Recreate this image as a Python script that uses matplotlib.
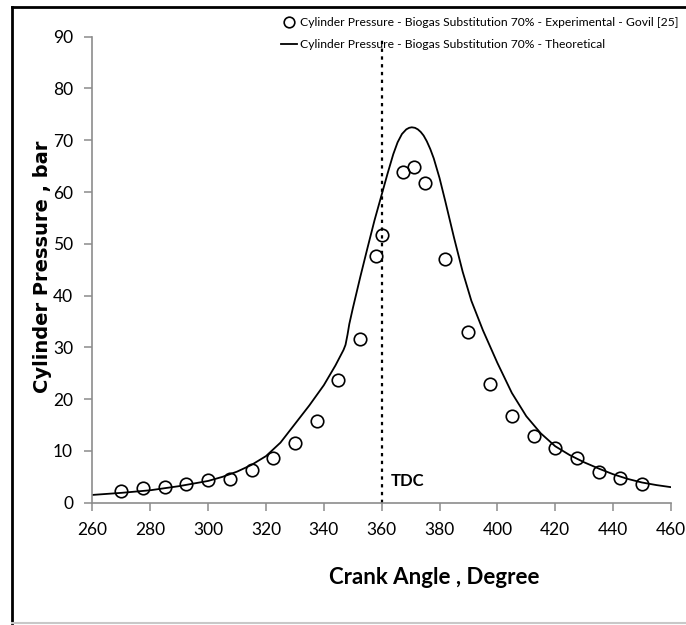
import matplotlib
matplotlib.use("Agg")
import matplotlib.pyplot as plt
from matplotlib.lines import Line2D

# Experimental cylinder pressure (Govil [25])
exp_angle = [270, 277.5, 285, 292.5, 300, 307.5, 315, 322.5, 330, 337.5, 345, 352.5,
             358, 360, 367.3, 371, 375, 382, 390, 397.5, 405, 412.5, 420, 427.5,
             435, 442.5, 450]
exp_pressure = [2.3, 2.9, 3.1, 3.7, 4.3, 4.6, 6.4, 8.7, 11.6, 15.7, 23.6, 31.7,
                47.6, 51.7, 63.8, 64.8, 61.8, 47.0, 32.9, 22.9, 16.8, 12.8, 10.6, 8.7,
                6.0, 4.8, 3.7]

# Theoretical curve
th_angle = [260, 270, 280, 290, 300, 305, 310, 315, 320, 325, 330, 335, 340, 344,
            346.8, 347.5, 348.2, 348.8, 350, 352.6, 355, 357.5, 360, 362, 364,
            365.5, 367, 368.5, 369.5, 370.4, 371.5, 372.5, 373.5, 374.5, 375.6,
            376.8, 378, 380, 382, 385, 388, 391, 395, 400, 405, 410, 415, 420, 425,
            430, 435, 440, 445, 450, 455, 460]
th_pressure = [1.5, 1.9, 2.4, 3.2, 4.2, 5.0, 6.0, 7.3, 9.0, 11.6, 15.2, 18.8, 22.7,
               26.5, 29.5, 30.5, 32.5, 34.5, 37.5, 43.6, 49.0, 54.5, 59.5, 63.5,
               67.3, 69.6, 71.2, 72.1, 72.4, 72.5, 72.4, 72.1, 71.6, 70.9, 69.8,
               68.3, 66.5, 62.7, 58.2, 51.2, 44.6, 39.0, 33.3, 27.0, 21.2, 16.7,
               13.4, 10.9, 9.2, 7.8, 6.6, 5.5, 4.6, 3.9, 3.4, 3.0]

x_ticks = list(range(260, 461, 20))
y_ticks = list(range(0, 91, 10))

narrow = "Lato"

fig = plt.figure(figsize=(6.86, 6.25), dpi=100)
ax = fig.add_axes([0.1348, 0.1957, 0.978 - 0.1348, 0.9413 - 0.1957])

ax.plot(th_angle, th_pressure, color="black", lw=1.3,
        label="Cylinder Pressure - Biogas Substitution 70% - Theoretical")
ax.plot(exp_angle, exp_pressure, linestyle="none", marker="o", markersize=9,
        mfc="none", mec="black", mew=1.2,
        label="Cylinder Pressure - Biogas Substitution 70% - Experimental - Govil [25]")

# TDC marker
ax.axvline(360, color="black", linestyle=(0, (1.5, 2)), lw=1.6)
ax.text(363.3, 4.2, "TDC", fontsize=12, family=narrow, fontweight="bold", va="center")

ax.set_xlim(260, 460)
ax.set_ylim(0, 90)
ax.set_xticks(x_ticks)
ax.set_yticks(y_ticks)
for lab in ax.get_xticklabels() + ax.get_yticklabels():
    lab.set_family(narrow)
    lab.set_fontsize(12.5)

for side in ["top", "right"]:
    ax.spines[side].set_visible(False)
for side in ["left", "bottom"]:
    ax.spines[side].set_color("#8c8c8c")
    ax.spines[side].set_linewidth(1.2)
ax.tick_params(direction="out", length=6, width=1.1, color="#8c8c8c", pad=8)

fig.text(434 / 686, 1 - 578 / 625, "Crank Angle , Degree", fontsize=16,
         family=narrow, fontweight="bold", ha="center", va="center")
fig.text(43 / 686, 1 - 267 / 625, "Cylinder Pressure , bar", fontsize=14,
         fontweight="bold", rotation=90, ha="center", va="center")

handles, labels = ax.get_legend_handles_labels()
ax.legend(handles[::-1], labels[::-1], loc="upper left",
          bbox_to_anchor=(276 / 686, 1 - 12 / 625), bbox_transform=fig.transFigure,
          frameon=False, handlelength=1.3, handletextpad=0.3, labelspacing=0.95,
          markerscale=0.85, prop={"family": narrow, "size": 8.7}, borderaxespad=0)

# outer frame
fig.add_artist(Line2D([12 / 686, 12 / 686], [1 - 623 / 625, 1 - 7 / 625],
                      transform=fig.transFigure, color="black", lw=2))
fig.add_artist(Line2D([12 / 686, 1], [1 - 7 / 625, 1 - 7 / 625],
                      transform=fig.transFigure, color="black", lw=2))
fig.add_artist(Line2D([12 / 686, 1], [1 - 623 / 625, 1 - 623 / 625],
                      transform=fig.transFigure, color="#c8c8c8", lw=1.5))

fig.savefig("out.png", dpi=100)
